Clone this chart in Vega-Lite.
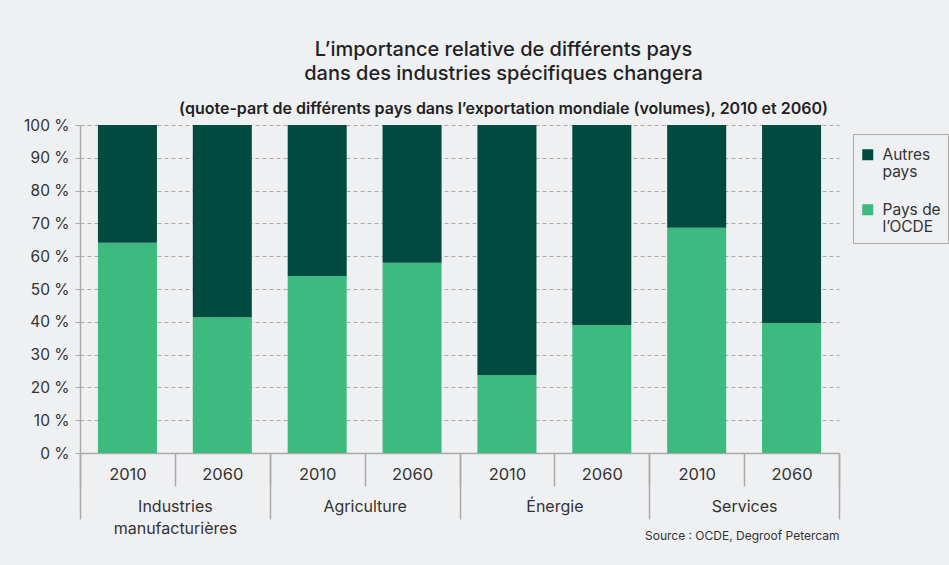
{
  "$schema": "https://vega.github.io/schema/vega-lite/v6.json",
  "width": 759,
  "height": 328,
  "autosize": {"type": "none"},
  "padding": {"left": 80, "top": 125, "right": 110, "bottom": 112},
  "background": "#eff0f2",
  "title": {
    "text": ["L’importance relative de différents pays", "dans des industries spécifiques changera"],
    "subtitle": "(quote-part de différents pays dans l’exportation mondiale (volumes), 2010 et 2060)",
    "anchor": "middle",
    "frame": "group",
    "dx": 44,
    "font": "Inter",
    "fontSize": 20,
    "fontWeight": 500,
    "lineHeight": 24,
    "color": "#222222",
    "subtitleFont": "Inter",
    "subtitleFontSize": 16,
    "subtitleFontWeight": 600,
    "subtitleColor": "#222222",
    "subtitlePadding": 17,
    "offset": 1
  },
  "data": {
    "values": [
      {"secteur": "Industries manufacturières", "annee": "2010", "barre": "Industries manufacturières 2010", "groupe": "Pays de l’OCDE", "part": 64.1},
      {"secteur": "Industries manufacturières", "annee": "2010", "barre": "Industries manufacturières 2010", "groupe": "Autres pays", "part": 35.9},
      {"secteur": "Industries manufacturières", "annee": "2060", "barre": "Industries manufacturières 2060", "groupe": "Pays de l’OCDE", "part": 41.4},
      {"secteur": "Industries manufacturières", "annee": "2060", "barre": "Industries manufacturières 2060", "groupe": "Autres pays", "part": 58.6},
      {"secteur": "Agriculture", "annee": "2010", "barre": "Agriculture 2010", "groupe": "Pays de l’OCDE", "part": 54.0},
      {"secteur": "Agriculture", "annee": "2010", "barre": "Agriculture 2010", "groupe": "Autres pays", "part": 46.0},
      {"secteur": "Agriculture", "annee": "2060", "barre": "Agriculture 2060", "groupe": "Pays de l’OCDE", "part": 58.0},
      {"secteur": "Agriculture", "annee": "2060", "barre": "Agriculture 2060", "groupe": "Autres pays", "part": 42.0},
      {"secteur": "Énergie", "annee": "2010", "barre": "Énergie 2010", "groupe": "Pays de l’OCDE", "part": 23.8},
      {"secteur": "Énergie", "annee": "2010", "barre": "Énergie 2010", "groupe": "Autres pays", "part": 76.2},
      {"secteur": "Énergie", "annee": "2060", "barre": "Énergie 2060", "groupe": "Pays de l’OCDE", "part": 39.0},
      {"secteur": "Énergie", "annee": "2060", "barre": "Énergie 2060", "groupe": "Autres pays", "part": 61.0},
      {"secteur": "Services", "annee": "2010", "barre": "Services 2010", "groupe": "Pays de l’OCDE", "part": 68.7},
      {"secteur": "Services", "annee": "2010", "barre": "Services 2010", "groupe": "Autres pays", "part": 31.3},
      {"secteur": "Services", "annee": "2060", "barre": "Services 2060", "groupe": "Pays de l’OCDE", "part": 39.6},
      {"secteur": "Services", "annee": "2060", "barre": "Services 2060", "groupe": "Autres pays", "part": 60.4}
    ]
  },
  "layer": [
    {
      "mark": {"type": "bar", "width": {"band": 0.622}},
      "encoding": {
        "x": {
          "field": "barre",
          "type": "nominal",
          "sort": ["Industries manufacturières 2010", "Industries manufacturières 2060", "Agriculture 2010", "Agriculture 2060", "Énergie 2010", "Énergie 2060", "Services 2010", "Services 2060"],
          "scale": {"paddingInner": 0, "paddingOuter": 0},
          "axis": {
            "orient": "bottom",
            "title": null,
            "labelExpr": "substring(datum.label, length(datum.label) - 4)",
            "labelAngle": 0,
            "labelFont": "Inter",
            "labelFontSize": 16.5,
            "labelColor": "#333333",
            "labelBaseline": "middle",
            "labelPadding": -12,
            "tickBand": "extent",
            "tickSize": 33,
            "tickColor": "#aaaaaa",
            "tickWidth": 1.5,
            "domainColor": "#aaaaaa",
            "domainWidth": 1.5,
            "grid": false
          }
        },
        "y": {
          "field": "part",
          "type": "quantitative",
          "stack": "zero",
          "scale": {"domain": [0, 100], "nice": false},
          "axis": {
            "title": null,
            "values": [0, 10, 20, 30, 40, 50, 60, 70, 80, 90, 100],
            "labelExpr": "datum.value + ' %'",
            "labelFont": "Inter",
            "labelFontSize": 15.5,
            "labelColor": "#333333",
            "labelPadding": 6,
            "tickSize": 5,
            "tickColor": "#aaaaaa",
            "domainColor": "#aaaaaa",
            "domainWidth": 1.5,
            "grid": true,
            "gridColor": "#aaaaaa",
            "gridDash": [4, 3],
            "gridWidth": 1
          }
        },
        "color": {
          "field": "groupe",
          "type": "nominal",
          "scale": {"domain": ["Autres pays", "Pays de l’OCDE"], "range": ["#004a3f", "#3dba80"]},
          "legend": {
            "title": " ",
            "titleFontSize": 1,
            "titlePadding": 5,
            "orient": "none",
            "legendX": 773,
            "legendY": 9,
            "strokeColor": "#aaaaaa",
            "padding": 7,
            "symbolType": "square",
            "symbolSize": 121,
            "symbolStrokeWidth": 0,
            "labelFont": "Inter",
            "labelFontSize": 15.5,
            "labelColor": "#333333",
            "labelLineHeight": 20,
            "labelOffset": 7,
            "labelLimit": 200,
            "rowPadding": 21,
            "labelExpr": "datum.label == 'Autres pays' ? ['Autres', 'pays'] : ['Pays de', 'l’OCDE']"
          }
        },
        "order": {"field": "groupe", "sort": "descending"}
      }
    },
    {
      "mark": {"type": "bar", "opacity": 0},
      "encoding": {
        "x": {
          "field": "secteur",
          "type": "nominal",
          "sort": ["Industries manufacturières", "Agriculture", "Énergie", "Services"],
          "scale": {"paddingInner": 0, "paddingOuter": 0},
          "axis": {
            "orient": "bottom",
            "title": "Source : OCDE, Degroof Petercam",
            "titleFont": "Inter",
            "titleFontSize": 12,
            "titleFontWeight": "normal",
            "titleColor": "#333333",
            "titleAnchor": "end",
            "titleAlign": "right",
            "titleBaseline": "middle",
            "titleX": 759,
            "titleY": 82,
            "labelExpr": "datum.label == 'Industries manufacturières' ? ['Industries', 'manufacturières'] : datum.label",
            "labelAngle": 0,
            "labelFont": "Inter",
            "labelFontSize": 16,
            "labelColor": "#333333",
            "labelBaseline": "top",
            "labelLineHeight": 22,
            "labelPadding": -21,
            "tickBand": "extent",
            "tickSize": 66,
            "tickColor": "#aaaaaa",
            "tickWidth": 1.5,
            "domain": false,
            "grid": false
          }
        }
      }
    }
  ],
  "resolve": {"scale": {"x": "independent"}},
  "config": {"view": {"stroke": null}}
}
